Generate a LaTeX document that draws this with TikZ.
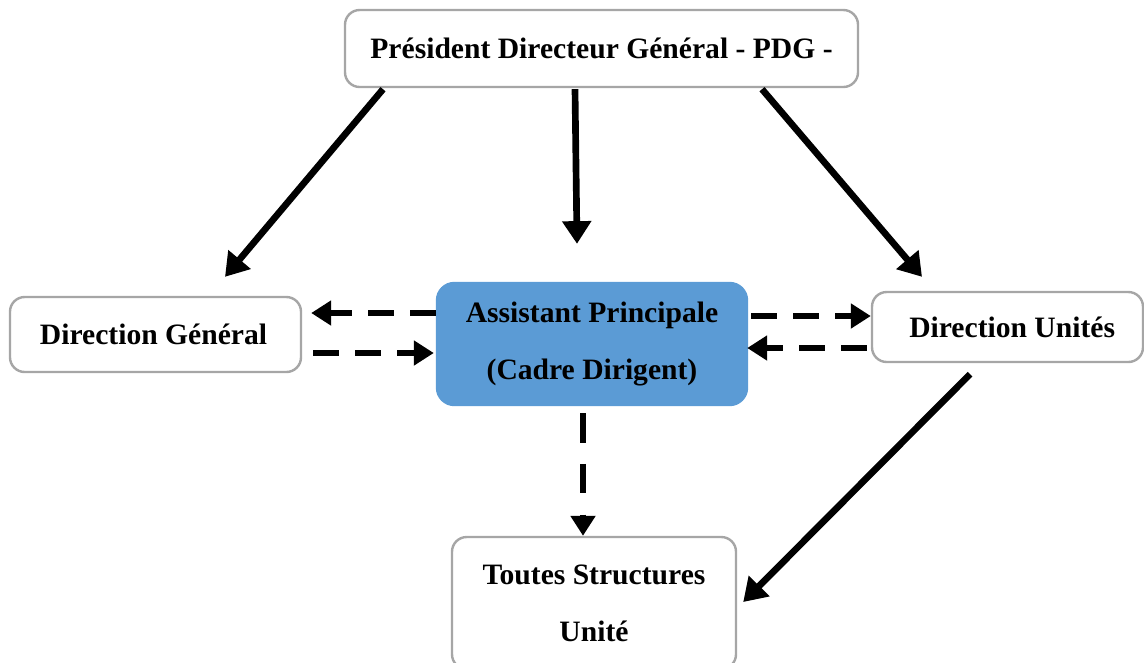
\documentclass[tikz,border=0pt]{standalone}
\usepackage{fontspec}
\setmainfont{Liberation Serif}
\usetikzlibrary{arrows.meta,calc}
\definecolor{boxgray}{HTML}{A6A6A6}
\definecolor{assistblue}{HTML}{5B9BD5}
\begin{document}
\begin{tikzpicture}[x=0.75pt,y=-0.75pt,
  box/.style={draw=boxgray, line width=1.8pt, rounded corners=11pt, fill=white,
    inner sep=0pt, align=center, font=\fontsize{22.2}{42.75}\selectfont\bfseries},
  mainbox/.style={box, draw=assistblue, fill=assistblue, rounded corners=13pt},
  solidarrow/.style={line width=5pt, -{Triangle[length=17pt,width=21pt]}},
  dasharrow/.style={line width=5pt, dash pattern=on 19pt off 12.5pt,
    -{Triangle[length=15pt,width=18pt]}}
]
\useasboundingbox (0,0) rectangle (1144,662);
\clip (0,0) rectangle (1144,662);

% boxes
\node[box, minimum width=513*0.75pt, minimum height=77*0.75pt] (pdg) at (601.5,48.5)
  {Président Directeur Général - PDG -};
\node[box, minimum width=291*0.75pt, minimum height=75*0.75pt] (dg) at (155.5,334.5)
  {\hspace*{-3pt}Direction Général};
\node[mainbox, minimum width=310*0.75pt, minimum height=122*0.75pt] (asst) at (592,344)
  {Assistant Principale\\(Cadre Dirigent)};
\node[box, minimum width=271*0.75pt, minimum height=70*0.75pt] (du) at (1007.5,327)
  {\hspace*{7pt}Direction Unités};
\node[box, minimum width=284*0.75pt, minimum height=132*0.75pt] (ts) at (594,603)
  {Toutes Structures\\Unité};

% solid arrows from the PDG
\draw[solidarrow] ($(pdg.south)+(-218.5,1)$) -- ($(dg.north)+(69.5,-19)$);
\draw[solidarrow] ($(pdg.south)+(-26.5,1)$) -- ($(asst.north)+(-15,-38)$);
\draw[solidarrow] ($(pdg.south)+(160.5,1)$) -- ($(du.north)+(-85.5,-14)$);
\draw[solidarrow] ($(du.south)+(-37.5,11)$) -- ($(ts.east)+(6,-1)$);

% dashed exchanges
\draw[dasharrow] ($(asst.west)+(0,-31)$) -- ($(dg.east)+(9,-21.5)$);
\draw[dasharrow] ($(dg.east)+(11,18.5)$) -- ($(asst.west)+(-2,9)$);
\draw[dasharrow] ($(asst.east)+(3,-28)$) -- ($(du.west)+(0,-11)$);
\draw[dasharrow] ($(du.west)+(-4,21)$) -- ($(asst.east)+(-1,4)$);
\draw[dasharrow, dash pattern=on 22pt off 16pt] ($(asst.south)+(-9,7)$) -- ($(ts.north)+(-11,0)$);
\end{tikzpicture}
\end{document}
